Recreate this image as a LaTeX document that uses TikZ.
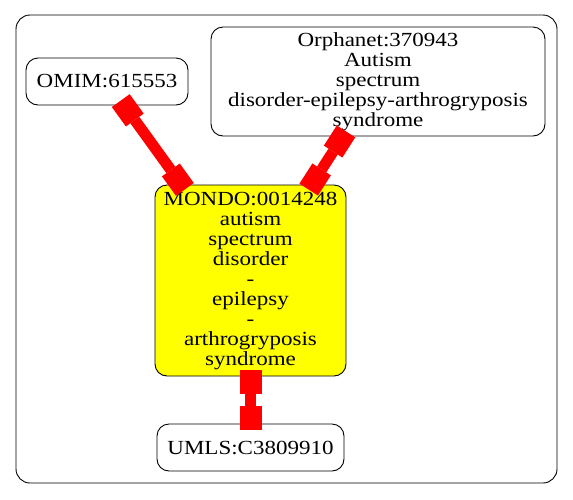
\documentclass[tikz,border=0pt]{standalone}
\usepackage{fontspec}
\setmainfont{Liberation Serif}[FakeStretch=1.15]
\usetikzlibrary{arrows.meta}
\definecolor{nodeyellow}{RGB}{255,255,0}
\definecolor{linkred}{RGB}{255,0,0}
\begin{document}
\begin{tikzpicture}[x=1pt,y=-1pt,
  nodebox/.style={draw=black, line width=0.9pt, rounded corners=12pt, align=center, inner sep=0pt, font=\fontsize{20}{20}\selectfont},
  boxtip/.tip={Square[length=24pt,width=22pt,line width=0pt]},
  link/.style={draw=linkred, line width=11pt, boxtip-boxtip, shorten <=-6pt, shorten >=-6pt}
]
\useasboundingbox (0,0) rectangle (573,499);
\draw[line width=0.9pt, rounded corners=14pt] (16,15) rectangle (557,483);
\node[nodebox, minimum width=162pt, minimum height=47pt] (omim) at (107,81.5) {OMIM:615553};
\node[nodebox, minimum width=334pt, minimum height=109pt] (orpha) at (378,81.5) {Orphanet:370943\\Autism\\spectrum\\disorder-epilepsy-arthrogryposis\\syndrome};
\node[nodebox, fill=nodeyellow, minimum width=191pt, minimum height=191pt] (mondo) at (250.5,280.5) {MONDO:0014248\\autism\\spectrum\\disorder\\-\\epilepsy\\-\\arthrogryposis\\syndrome};
\node[nodebox, minimum width=187pt, minimum height=47pt] (umls) at (250.5,447.5) {UMLS:C3809910};
\draw[link] (omim) -- (mondo);
\draw[link] (orpha) -- (mondo);
\draw[link] (mondo) -- (umls);
\end{tikzpicture}
\end{document}
